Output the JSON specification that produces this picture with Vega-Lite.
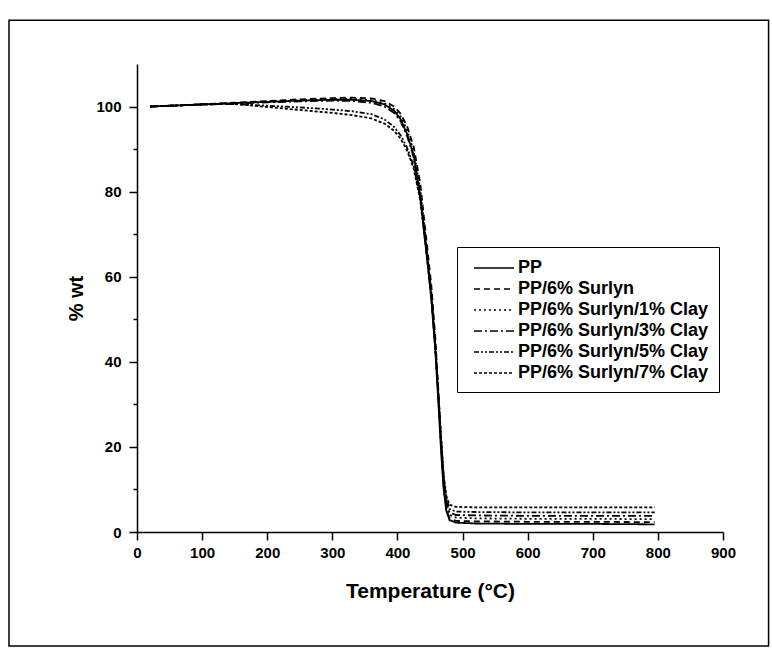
{
  "$schema": "https://vega.github.io/schema/vega-lite/v6.json",
  "width": 586,
  "height": 468,
  "autosize": "none",
  "padding": {"left": 137, "top": 64, "right": 49, "bottom": 117},
  "background": "white",
  "config": {
    "view": {"stroke": null},
    "font": "Liberation Sans",
    "axis": {
      "grid": false,
      "domainColor": "black",
      "domainWidth": 1.5,
      "tickColor": "black",
      "tickWidth": 1.5,
      "labelColor": "black",
      "labelFont": "Liberation Sans",
      "labelFontWeight": "bold",
      "labelFontSize": 15,
      "titleColor": "black",
      "titleFont": "Liberation Sans",
      "titleFontWeight": "bold",
      "titleFontSize": 20
    },
    "legend": {
      "orient": "none",
      "legendX": 320,
      "legendY": 183,
      "strokeColor": "black",
      "padding": 10,
      "symbolType": "M-2,0H2",
      "symbolSize": 400,
      "symbolStrokeWidth": 1.6,
      "symbolStrokeColor": "black",
      "symbolFillColor": "transparent",
      "symbolOffset": 16,
      "rowPadding": 1,
      "labelFont": "Liberation Sans",
      "labelFontWeight": "bold",
      "labelFontSize": 18,
      "labelColor": "black",
      "labelOffset": 13,
      "labelLimit": 400
    }
  },
  "layer": [
    {
      "data": {"values": [{}]},
      "mark": {"type": "rect", "fill": null, "stroke": "black", "strokeWidth": 1.5, "clip": false},
      "encoding": {
        "x": {"datum": -196.6, "type": "quantitative"},
        "x2": {"datum": 970},
        "y": {"datum": 120.3, "type": "quantitative"},
        "y2": {"datum": -26.8}
      }
    },
    {
      "data": {
        "values": [
          {"t": 20, "PP": 100, "PP/6% Surlyn": 100, "PP/6% Surlyn/1% Clay": 100, "PP/6% Surlyn/3% Clay": 100, "PP/6% Surlyn/5% Clay": 100, "PP/6% Surlyn/7% Clay": 100},
          {"t": 100, "PP": 100.5, "PP/6% Surlyn": 100.5, "PP/6% Surlyn/1% Clay": 100.5, "PP/6% Surlyn/3% Clay": 100.5, "PP/6% Surlyn/5% Clay": 100.5, "PP/6% Surlyn/7% Clay": 100.5},
          {"t": 150, "PP": 100.8, "PP/6% Surlyn": 100.9, "PP/6% Surlyn/1% Clay": 100.8, "PP/6% Surlyn/3% Clay": 100.7, "PP/6% Surlyn/5% Clay": 100.6, "PP/6% Surlyn/7% Clay": 100.6},
          {"t": 200, "PP": 101.1, "PP/6% Surlyn": 101.3, "PP/6% Surlyn/1% Clay": 101.2, "PP/6% Surlyn/3% Clay": 101.0, "PP/6% Surlyn/5% Clay": 100.2, "PP/6% Surlyn/7% Clay": 99.9},
          {"t": 250, "PP": 101.4, "PP/6% Surlyn": 101.7, "PP/6% Surlyn/1% Clay": 101.5, "PP/6% Surlyn/3% Clay": 101.2, "PP/6% Surlyn/5% Clay": 99.8, "PP/6% Surlyn/7% Clay": 99.2},
          {"t": 300, "PP": 101.6, "PP/6% Surlyn": 102.0, "PP/6% Surlyn/1% Clay": 101.8, "PP/6% Surlyn/3% Clay": 101.4, "PP/6% Surlyn/5% Clay": 99.3, "PP/6% Surlyn/7% Clay": 98.5},
          {"t": 330, "PP": 101.6, "PP/6% Surlyn": 102.1, "PP/6% Surlyn/1% Clay": 101.8, "PP/6% Surlyn/3% Clay": 101.3, "PP/6% Surlyn/5% Clay": 98.9, "PP/6% Surlyn/7% Clay": 98.0},
          {"t": 360, "PP": 101.3, "PP/6% Surlyn": 101.9, "PP/6% Surlyn/1% Clay": 101.5, "PP/6% Surlyn/3% Clay": 100.9, "PP/6% Surlyn/5% Clay": 98.2, "PP/6% Surlyn/7% Clay": 97.2},
          {"t": 380, "PP": 100.5, "PP/6% Surlyn": 101.3, "PP/6% Surlyn/1% Clay": 100.8, "PP/6% Surlyn/3% Clay": 100.0, "PP/6% Surlyn/5% Clay": 97.0, "PP/6% Surlyn/7% Clay": 96.0},
          {"t": 395, "PP": 99.0, "PP/6% Surlyn": 100.0, "PP/6% Surlyn/1% Clay": 99.4, "PP/6% Surlyn/3% Clay": 98.5, "PP/6% Surlyn/5% Clay": 95.2, "PP/6% Surlyn/7% Clay": 94.3},
          {"t": 405, "PP": 97.0, "PP/6% Surlyn": 98.3, "PP/6% Surlyn/1% Clay": 97.6, "PP/6% Surlyn/3% Clay": 96.5, "PP/6% Surlyn/5% Clay": 93.2, "PP/6% Surlyn/7% Clay": 92.4},
          {"t": 415, "PP": 93.5, "PP/6% Surlyn": 95.3, "PP/6% Surlyn/1% Clay": 94.4, "PP/6% Surlyn/3% Clay": 93.0, "PP/6% Surlyn/5% Clay": 90.3, "PP/6% Surlyn/7% Clay": 89.6},
          {"t": 425, "PP": 88.5, "PP/6% Surlyn": 90.5, "PP/6% Surlyn/1% Clay": 89.5, "PP/6% Surlyn/3% Clay": 88.0, "PP/6% Surlyn/5% Clay": 86.0, "PP/6% Surlyn/7% Clay": 85.4},
          {"t": 435, "PP": 79.0, "PP/6% Surlyn": 82.0, "PP/6% Surlyn/1% Clay": 80.5, "PP/6% Surlyn/3% Clay": 79.5, "PP/6% Surlyn/5% Clay": 78.5, "PP/6% Surlyn/7% Clay": 78.0},
          {"t": 445, "PP": 65.0, "PP/6% Surlyn": 68.0, "PP/6% Surlyn/1% Clay": 66.5, "PP/6% Surlyn/3% Clay": 66.0, "PP/6% Surlyn/5% Clay": 65.5, "PP/6% Surlyn/7% Clay": 65.0},
          {"t": 452, "PP": 55.0, "PP/6% Surlyn": 58.0, "PP/6% Surlyn/1% Clay": 56.5, "PP/6% Surlyn/3% Clay": 56.0, "PP/6% Surlyn/5% Clay": 55.5, "PP/6% Surlyn/7% Clay": 55.0},
          {"t": 458, "PP": 43.0, "PP/6% Surlyn": 46.0, "PP/6% Surlyn/1% Clay": 44.5, "PP/6% Surlyn/3% Clay": 44.0, "PP/6% Surlyn/5% Clay": 44.0, "PP/6% Surlyn/7% Clay": 43.5},
          {"t": 463, "PP": 30.0, "PP/6% Surlyn": 33.0, "PP/6% Surlyn/1% Clay": 31.5, "PP/6% Surlyn/3% Clay": 31.5, "PP/6% Surlyn/5% Clay": 32.0, "PP/6% Surlyn/7% Clay": 32.0},
          {"t": 467, "PP": 19.0, "PP/6% Surlyn": 21.0, "PP/6% Surlyn/1% Clay": 20.5, "PP/6% Surlyn/3% Clay": 21.0, "PP/6% Surlyn/5% Clay": 22.0, "PP/6% Surlyn/7% Clay": 22.5},
          {"t": 471, "PP": 10.0, "PP/6% Surlyn": 11.0, "PP/6% Surlyn/1% Clay": 11.0, "PP/6% Surlyn/3% Clay": 12.0, "PP/6% Surlyn/5% Clay": 13.0, "PP/6% Surlyn/7% Clay": 13.5},
          {"t": 475, "PP": 5.0, "PP/6% Surlyn": 5.5, "PP/6% Surlyn/1% Clay": 6.0, "PP/6% Surlyn/3% Clay": 7.0, "PP/6% Surlyn/5% Clay": 8.0, "PP/6% Surlyn/7% Clay": 8.5},
          {"t": 480, "PP": 2.8, "PP/6% Surlyn": 3.2, "PP/6% Surlyn/1% Clay": 4.0, "PP/6% Surlyn/3% Clay": 4.6, "PP/6% Surlyn/5% Clay": 5.4, "PP/6% Surlyn/7% Clay": 6.4},
          {"t": 490, "PP": 2.2, "PP/6% Surlyn": 2.6, "PP/6% Surlyn/1% Clay": 3.4, "PP/6% Surlyn/3% Clay": 4.0, "PP/6% Surlyn/5% Clay": 4.8, "PP/6% Surlyn/7% Clay": 5.9},
          {"t": 520, "PP": 2.0, "PP/6% Surlyn": 2.5, "PP/6% Surlyn/1% Clay": 3.2, "PP/6% Surlyn/3% Clay": 3.9, "PP/6% Surlyn/5% Clay": 4.7, "PP/6% Surlyn/7% Clay": 5.8},
          {"t": 600, "PP": 1.9, "PP/6% Surlyn": 2.4, "PP/6% Surlyn/1% Clay": 3.1, "PP/6% Surlyn/3% Clay": 3.8, "PP/6% Surlyn/5% Clay": 4.6, "PP/6% Surlyn/7% Clay": 5.8},
          {"t": 700, "PP": 1.9, "PP/6% Surlyn": 2.4, "PP/6% Surlyn/1% Clay": 3.1, "PP/6% Surlyn/3% Clay": 3.8, "PP/6% Surlyn/5% Clay": 4.6, "PP/6% Surlyn/7% Clay": 5.8},
          {"t": 795, "PP": 1.8, "PP/6% Surlyn": 2.3, "PP/6% Surlyn/1% Clay": 3.0, "PP/6% Surlyn/3% Clay": 3.8, "PP/6% Surlyn/5% Clay": 4.6, "PP/6% Surlyn/7% Clay": 5.8}
        ]
      },
      "transform": [
        {"fold": ["PP", "PP/6% Surlyn", "PP/6% Surlyn/1% Clay", "PP/6% Surlyn/3% Clay", "PP/6% Surlyn/5% Clay", "PP/6% Surlyn/7% Clay"], "as": ["sample", "wt"]}
      ],
      "mark": {"type": "line", "color": "black", "strokeWidth": 1.8, "clip": false},
      "encoding": {
        "x": {
          "field": "t",
          "type": "quantitative",
          "scale": {"domain": [0, 900], "nice": false, "zero": false},
          "axis": {
            "title": "Temperature (°C)",
            "titleFontSize": 21,
            "values": [0, 50, 100, 150, 200, 250, 300, 350, 400, 450, 500, 550, 600, 650, 700, 750, 800, 850, 900],
            "labelExpr": "datum.value % 100 === 0 ? datum.label : ''",
            "tickSize": {"condition": {"test": "datum.value % 100 === 0", "value": 8}, "value": 4},
            "labelPadding": 5,
            "titlePadding": 20,
            "labelFlush": false,
            "labelOverlap": false
          }
        },
        "y": {
          "field": "wt",
          "type": "quantitative",
          "scale": {"domain": [0, 110], "nice": false},
          "axis": {
            "title": "% wt",
            "values": [0, 10, 20, 30, 40, 50, 60, 70, 80, 90, 100],
            "labelExpr": "datum.value % 20 === 0 ? datum.label : ''",
            "tickSize": {"condition": {"test": "datum.value % 20 === 0", "value": 8}, "value": 4},
            "labelPadding": 8,
            "titlePadding": 9,
            "labelFlush": false,
            "labelOverlap": false
          }
        },
        "strokeDash": {
          "field": "sample",
          "type": "nominal",
          "scale": {
            "domain": ["PP", "PP/6% Surlyn", "PP/6% Surlyn/1% Clay", "PP/6% Surlyn/3% Clay", "PP/6% Surlyn/5% Clay", "PP/6% Surlyn/7% Clay"],
            "range": [[1, 0], [6, 4], [2, 3], [8, 3, 2, 3], [5, 2, 2, 2, 2, 2], [3, 2]]
          },
          "legend": {"title": null}
        }
      }
    }
  ]
}
